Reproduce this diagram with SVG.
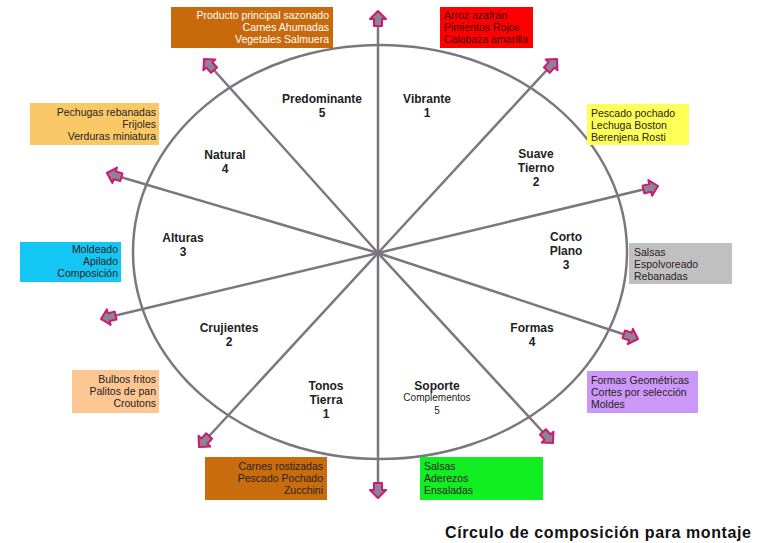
<svg xmlns="http://www.w3.org/2000/svg" width="762" height="543" viewBox="0 0 762 543">
<style>
.bx text{font-family:"Liberation Sans",Arial,sans-serif;font-size:10.5px;fill:#2a2222}
.r text{text-anchor:end}
.lab text{font-family:"Liberation Sans",Arial,sans-serif;font-size:12px;font-weight:bold;fill:#222;text-anchor:middle}
.spoke{stroke:#7b7680;stroke-width:2.5;fill:none;marker-end:url(#ah)}
.title{font-family:"Liberation Sans",Arial,sans-serif;font-size:16px;font-weight:bold;fill:#111}
</style>
<defs>
<marker id="ah" markerUnits="userSpaceOnUse" viewBox="-2 -10 20 20" markerWidth="20" markerHeight="20" refX="15" refY="0" orient="auto">
<path d="M0,-4 L7,-4 L7,-8 L15,0 L7,8 L7,4 L0,4 Z" fill="#8c8494" stroke="#cc1a72" stroke-width="2" stroke-linejoin="round"/>
</marker>
</defs>
<rect width="762" height="543" fill="#fff"/>
<ellipse cx="380" cy="252" rx="247" ry="207" fill="none" stroke="#7b7680" stroke-width="2.5"/>
<g id="connectors">
<path class="spoke" d="M378,253 L378,11"/>
<path class="spoke" d="M378,253 L378,498"/>
<path class="spoke" d="M378,253 L204,59"/>
<path class="spoke" d="M378,253 L553,443"/>
<path class="spoke" d="M378,253 L557,59"/>
<path class="spoke" d="M378,253 L199,447"/>
<path class="spoke" d="M378,253 L107,173"/>
<path class="spoke" d="M378,253 L638,339"/>
<path class="spoke" d="M378,253 L658,186"/>
<path class="spoke" d="M378,253 L101,319"/>
</g>
<g id="lab-predominante" class="lab"><text x="322" y="103">Predominante</text><text x="322" y="117">5</text></g>
<g id="lab-vibrante" class="lab"><text x="427" y="103">Vibrante</text><text x="427" y="117">1</text></g>
<g id="lab-natural" class="lab"><text x="225" y="159">Natural</text><text x="225" y="173">4</text></g>
<g id="lab-suave" class="lab"><text x="536" y="158">Suave</text><text x="536" y="172">Tierno</text><text x="536" y="186">2</text></g>
<g id="lab-alturas" class="lab"><text x="183" y="242">Alturas</text><text x="183" y="256">3</text></g>
<g id="lab-corto" class="lab"><text x="566" y="241">Corto</text><text x="566" y="255">Plano</text><text x="566" y="269">3</text></g>
<g id="lab-crujientes" class="lab"><text x="229" y="332">Crujientes</text><text x="229" y="346">2</text></g>
<g id="lab-formas" class="lab"><text x="532" y="332">Formas</text><text x="532" y="346">4</text></g>
<g id="lab-tonos" class="lab"><text x="326" y="390">Tonos</text><text x="326" y="404">Tierra</text><text x="326" y="418">1</text></g>
<g id="lab-soporte" class="lab"><text x="437" y="390">Soporte</text><text x="437" y="401" style="font-weight:normal;font-size:10px">Complementos</text><text x="437" y="414" style="font-weight:normal;font-size:10px">5</text></g>
<g id="box-producto" class="bx r"><rect x="171" y="7" width="162" height="41" fill="#c8690b"/><text x="329" y="19" style="fill:#fff">Producto principal sazonado</text><text x="329" y="31" style="fill:#fff">Carnes Ahumadas</text><text x="329" y="43" style="fill:#fff">Vegetales Salmuera</text></g>
<g id="box-arroz" class="bx"><rect x="440" y="7" width="93" height="41" fill="#ff0000"/><text x="444" y="19" style="fill:#3a0000">Arroz azafrán</text><text x="444" y="31" style="fill:#3a0000">Pimientos Rojos</text><text x="444" y="43" style="fill:#3a0000">Calabaza amarilla</text></g>
<g id="box-pechugas" class="bx r"><rect x="30" y="103" width="129" height="42" fill="#f9c968"/><text x="156" y="116">Pechugas rebanadas</text><text x="156" y="128">Frijoles</text><text x="156" y="140">Verduras miniatura</text></g>
<g id="box-pescado" class="bx"><rect x="587" y="104" width="102" height="41" fill="#ffff55"/><text x="591" y="117">Pescado pochado</text><text x="591" y="129">Lechuga Boston</text><text x="591" y="141">Berenjena Rosti</text></g>
<g id="box-moldeado" class="bx r"><rect x="20" y="242" width="101" height="40" fill="#14c6f4"/><text x="118" y="253">Moldeado</text><text x="118" y="265">Apilado</text><text x="118" y="277">Composición</text></g>
<g id="box-salsas" class="bx"><rect x="629" y="243" width="103" height="41" fill="#c0c0c0"/><text x="634" y="256">Salsas</text><text x="634" y="268">Espolvoreado</text><text x="634" y="280">Rebanadas</text></g>
<g id="box-bulbos" class="bx r"><rect x="72" y="370" width="87" height="43" fill="#fbc692"/><text x="156" y="383">Bulbos fritos</text><text x="156" y="395">Palitos de pan</text><text x="156" y="407">Croutons</text></g>
<g id="box-formas" class="bx"><rect x="587" y="371" width="111" height="42" fill="#cb98f8"/><text x="591" y="384">Formas Geométricas</text><text x="591" y="396">Cortes por selección</text><text x="591" y="408">Moldes</text></g>
<g id="box-carnes" class="bx r"><rect x="205" y="457" width="122" height="43" fill="#c86c0d"/><text x="323" y="470">Carnes rostizadas</text><text x="323" y="482">Pescado Pochado</text><text x="323" y="494">Zucchini</text></g>
<g id="box-salsas2" class="bx"><rect x="420" y="457" width="123" height="43" fill="#11ee22"/><text x="424" y="470">Salsas</text><text x="424" y="482">Aderezos</text><text x="424" y="494">Ensaladas</text></g>
<text class="title" x="445" y="538" textLength="306" lengthAdjust="spacing">Círculo de composición para montaje</text>
</svg>
